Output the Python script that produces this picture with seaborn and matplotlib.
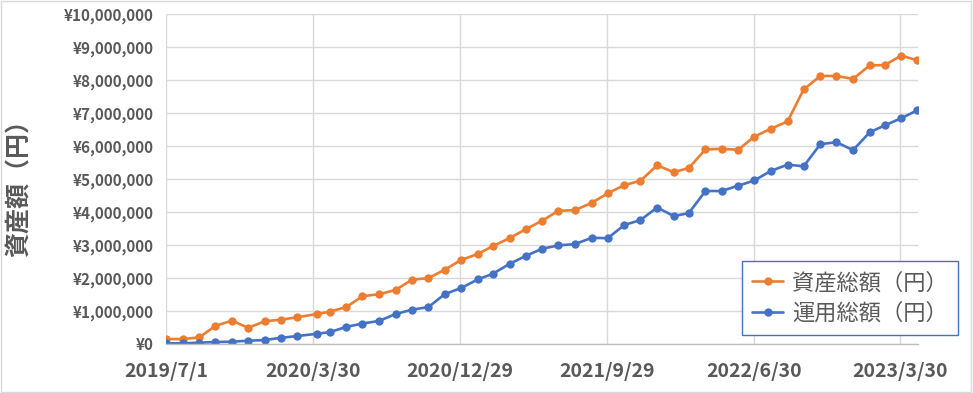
import pandas as pd
import matplotlib
matplotlib.use("Agg")
import matplotlib.pyplot as plt
from matplotlib.ticker import FuncFormatter
import seaborn as sns

# 月次データ（2019/7〜2023/5）
dates = pd.date_range("2019-07-01", "2023-05-01", freq="MS").tolist()
dates[9] = pd.Timestamp("2020-04-07")

asset_total = [150000, 150000, 200000, 550000, 710000, 490000, 690000, 740000, 810000, 910000,
               980000, 1120000, 1450000, 1510000, 1640000, 1950000, 2000000, 2250000, 2550000, 2730000,
               2970000, 3210000, 3480000, 3740000, 4040000, 4060000, 4280000, 4570000, 4820000, 4950000,
               5420000, 5210000, 5340000, 5900000, 5920000, 5890000, 6290000, 6530000, 6750000, 7720000,
               8130000, 8130000, 8040000, 8450000, 8460000, 8750000, 8600000]
invest_total = [20000, 20000, 40000, 60000, 70000, 100000, 120000, 190000, 240000, 310000,
                360000, 520000, 620000, 700000, 910000, 1040000, 1120000, 1510000, 1700000, 1960000,
                2130000, 2430000, 2670000, 2890000, 2990000, 3030000, 3220000, 3210000, 3610000, 3760000,
                4140000, 3880000, 3970000, 4640000, 4640000, 4800000, 4960000, 5250000, 5440000, 5390000,
                6060000, 6120000, 5880000, 6420000, 6630000, 6850000, 7090000]

series_names = ["資産総額（円）", "運用総額（円）"]
tick_dates = ["2019-07-01", "2020-03-30", "2020-12-29", "2021-09-29", "2022-06-30", "2023-03-30"]
tick_labels = ["2019/7/1", "2020/3/30", "2020/12/29", "2021/9/29", "2022/6/30", "2023/3/30"]

df = pd.DataFrame({
    "日付": dates * 2,
    "金額": asset_total + invest_total,
    "系列": [series_names[0]] * len(dates) + [series_names[1]] * len(dates),
})

sns.set_style("white")
plt.rcParams["font.family"] = ["Noto Sans CJK JP", "DejaVu Sans"]

fig = plt.figure(figsize=(9.73, 3.93), dpi=100)
ax = fig.add_axes([166 / 973, 1 - 344 / 393, (918 - 166) / 973, (344 - 14.3) / 393])

sns.lineplot(data=df, x="日付", y="金額", hue="系列", hue_order=series_names,
             palette=["#ED7D31", "#4472C4"], marker="o", markersize=6,
             markeredgewidth=0, linewidth=1.9, ax=ax, legend=True)

ax.set_ylim(0, 10000000)
ax.set_yticks(range(0, 10000001, 1000000))
ax.yaxis.set_major_formatter(FuncFormatter(lambda v, p: "¥{:,.0f}".format(v)))
ax.set_xlim(dates[0], dates[-1] + pd.Timedelta(days=1))
ax.set_xticks([pd.Timestamp(d) for d in tick_dates])
ax.set_xticklabels(tick_labels)

ax.grid(True, color="#D9D9D9", linewidth=1)
ax.set_axisbelow(True)
for s in ["top", "right", "left"]:
    ax.spines[s].set_visible(False)
ax.spines["bottom"].set_color("#BFBFBF")
ax.spines["bottom"].set_linewidth(1)
ax.tick_params(axis="both", length=0, labelcolor="#595959")
ax.tick_params(axis="y", pad=9, labelsize=11)
ax.tick_params(axis="x", pad=13, labelsize=14)
for lab in ax.get_xticklabels() + ax.get_yticklabels():
    lab.set_fontweight("bold")

ax.set_xlabel("")
ax.set_ylabel("")
fig.text(20 / 973, 1 - 182 / 393, "資産額（円）", rotation=90, ha="center", va="center",
         fontsize=18, color="#595959", fontweight="bold")

handles, labels = ax.get_legend_handles_labels()
ax.get_legend().remove()
leg = fig.legend(handles, labels, loc="lower right", bbox_to_anchor=(958 / 973, 1 - 335 / 393),
                 borderaxespad=0, fontsize=16, frameon=True, fancybox=False, framealpha=1,
                 edgecolor="#4472C4", handlelength=1.4, handletextpad=0.4, borderpad=0.45,
                 labelspacing=0.35, labelcolor="#595959")
leg.get_frame().set_linewidth(1)

fig.patches.append(plt.Rectangle((0.001, 0.002), 0.997, 0.995, transform=fig.transFigure,
                                 fill=False, edgecolor="#D9D9D9", linewidth=1))

fig.savefig("out.png", dpi=100)
